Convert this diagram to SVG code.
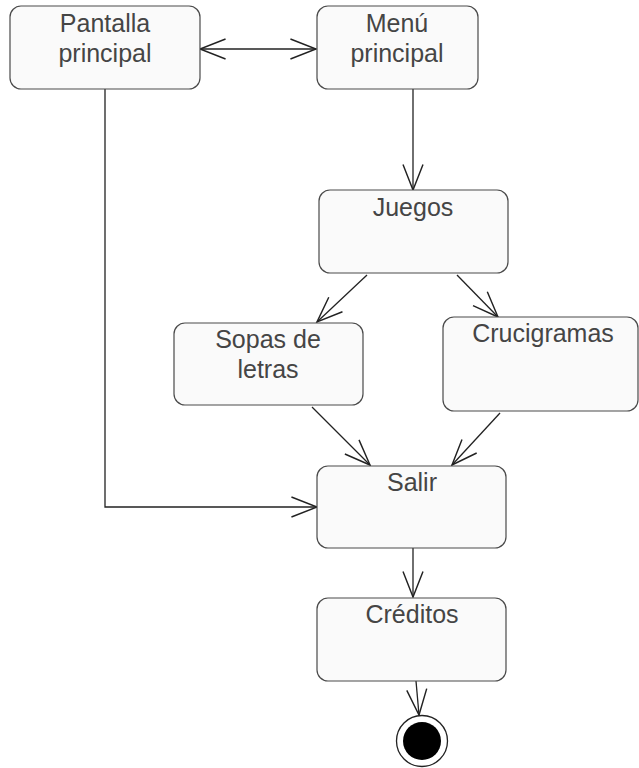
<svg xmlns="http://www.w3.org/2000/svg" width="639" height="768" viewBox="0 0 639 768">
  <style>
    .state rect { fill: #fafafa; stroke: #4a4a4a; stroke-width: 1.2; }
    .state text { font-family: "Liberation Sans", Arial, sans-serif; font-size: 25px; fill: #454545; text-anchor: middle; }
    .edge { fill: none; stroke: #222; stroke-width: 1.3; marker-end: url(#open); }
  </style>
  <defs>
    <marker id="open" markerUnits="userSpaceOnUse" markerWidth="30" markerHeight="30" viewBox="-25 -12 27 24" refX="0" refY="0" orient="auto-start-reverse" overflow="visible">
      <path d="M -23 -9 L 0 0 L -23 9" fill="none" stroke="#222" stroke-width="1.3"/>
    </marker>
  </defs>

  <g id="connectors">
    <line class="edge" x1="200" y1="49" x2="316" y2="49" marker-start="url(#open)"/>
    <line class="edge" x1="413" y1="89" x2="413" y2="190"/>
    <line class="edge" x1="367" y1="275" x2="317" y2="322"/>
    <line class="edge" x1="457" y1="275" x2="498" y2="317"/>
    <line class="edge" x1="312" y1="407" x2="370" y2="465"/>
    <line class="edge" x1="500" y1="413" x2="452" y2="465"/>
    <polyline class="edge" points="105,89 105,507 317,507"/>
    <line class="edge" x1="413" y1="548" x2="413" y2="597"/>
    <line class="edge" x1="416" y1="681" x2="419" y2="715"/>
  </g>

  <g id="pantalla-principal" class="state">
    <rect x="10" y="6" width="190" height="83" rx="11"/>
    <text x="105" y="32">Pantalla</text>
    <text x="105" y="62">principal</text>
  </g>

  <g id="menu-principal" class="state">
    <rect x="317" y="6" width="161" height="83" rx="11"/>
    <text x="397" y="32">Menú</text>
    <text x="397" y="62">principal</text>
  </g>

  <g id="juegos" class="state">
    <rect x="319" y="190" width="189" height="83" rx="11"/>
    <text x="413" y="216">Juegos</text>
  </g>

  <g id="sopas-de-letras" class="state">
    <rect x="174" y="323" width="189" height="82" rx="11"/>
    <text x="268" y="348">Sopas de</text>
    <text x="268" y="378">letras</text>
  </g>

  <g id="crucigramas" class="state">
    <rect x="443" y="317" width="195" height="94" rx="11"/>
    <text x="543" y="342">Crucigramas</text>
  </g>

  <g id="salir" class="state">
    <rect x="317" y="466" width="189" height="82" rx="11"/>
    <text x="412" y="491">Salir</text>
  </g>

  <g id="creditos" class="state">
    <rect x="317" y="598" width="189" height="83" rx="11"/>
    <text x="412" y="623">Créditos</text>
  </g>

  <g id="final">
    <circle cx="422" cy="741" r="25.5" fill="#fff" stroke="#222" stroke-width="1.3"/>
    <circle cx="422" cy="741" r="19" fill="#000"/>
  </g>
</svg>
